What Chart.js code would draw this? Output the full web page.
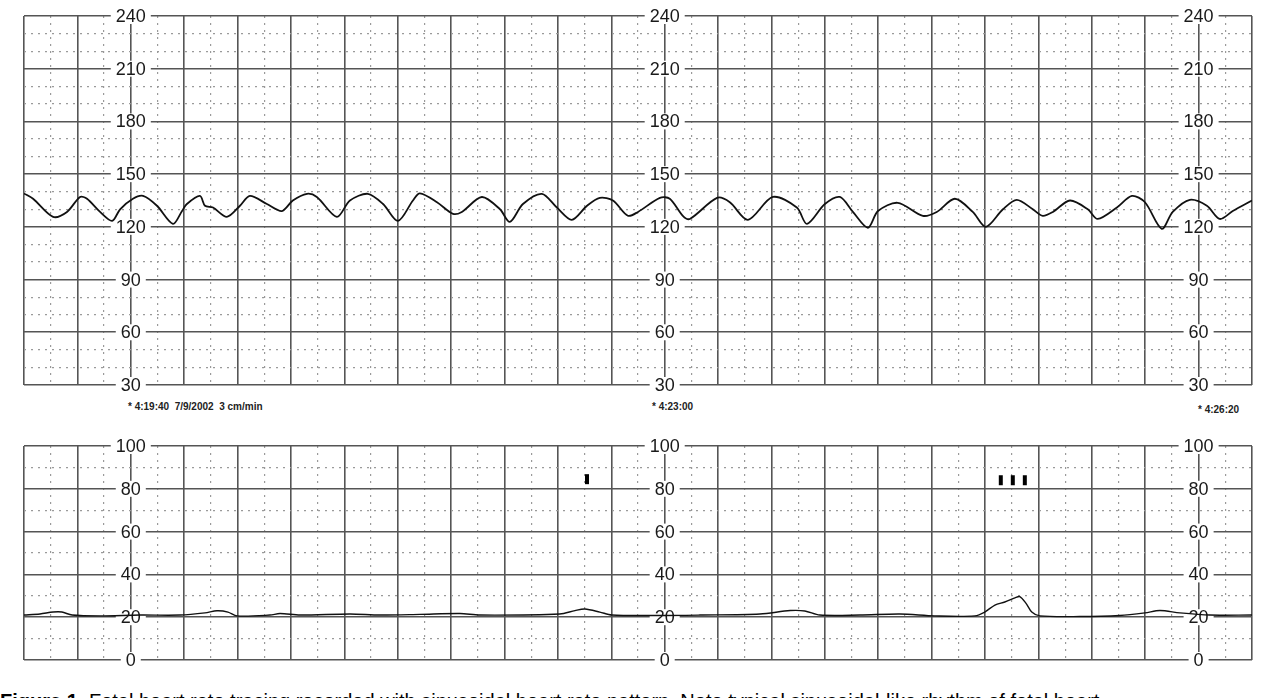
<!DOCTYPE html>
<html>
<head>
<meta charset="utf-8">
<script src="https://cdn.jsdelivr.net/npm/chart.js@4"></script>
<style>
  html, body { margin: 0; padding: 0; background: #fff; overflow: hidden; }
  body { width: 1266px; height: 698px; position: relative; font-family: "Liberation Sans", Arial, sans-serif; }
  canvas { position: absolute; left: 0; }
  #fcf { top: 0; }
  #ua { top: 430px; }
  .hora { position: absolute; font-size: 10px; font-weight: bold; color: #222; white-space: pre; }
  .pie { position: absolute; left: 0; top: 690px; font-size: 20px; color: #000; white-space: nowrap; }
</style>
</head>
<body>
<canvas id="fcf" width="1266" height="400"></canvas>
<canvas id="ua" width="1266" height="240"></canvas>
<div class="hora" style="left:128px; top:401px;">* 4:19:40  7/9/2002  3 cm/min</div>
<div class="hora" style="left:652px; top:401px;">* 4:23:00</div>
<div class="hora" style="left:1198px; top:404px;">* 4:26:20</div>
<div class="pie"><b>Figure 1.</b> Fetal heart rate tracing recorded with sinusoidal heart rate pattern. Note typical sinusoidal-like rhythm of fetal heart</div>
<script>
const ctxFcf = document.getElementById('fcf');
const ctxUa = document.getElementById('ua');

// segundos desde 4:19:00 (3 cm/min)
const tiempoMax = 460;
const columnasEtiquetas = [40, 240, 440];

// frecuencia cardiaca fetal (lpm)
const tiempoFcf = [0, 3.4, 10.9, 16.1, 21, 23.6, 28.5, 33, 36, 40.8, 44.6, 49.8, 55.8, 59.2, 61, 65.9, 67.8, 70.8, 76, 80.9,
    84.6, 91, 96.6, 100.7, 106, 109.7, 117.2, 122.1, 128.8, 134.5, 140.1, 145.7, 148.3, 154.7, 160.7, 164, 171.5, 178.3, 182, 186.9,
    194, 199.6, 205.2, 210.9, 215.7, 220.6, 226.2, 230, 238.2, 241.9, 246.8, 249.4, 259.6, 264.4, 271.2, 280.5, 289.5, 293.3, 300, 305.6,
    310.5, 316.1, 319.9, 327.3, 336.7, 341.9, 348.7, 355.4, 360.3, 366.7, 371.9, 377.9, 381.6, 385.4, 391.8, 398.5, 402.2, 409.4, 415, 419.9,
    426.2, 430.3, 436.7, 443.1, 447.9, 452.8, 460];
const fcf = [139, 136, 125.7, 128.5, 137, 136, 128.5, 123.4, 130, 136, 137.6, 132, 121.7, 129, 133, 137.6, 132, 131, 125.7, 132,
    137.6, 133, 129, 135, 138.8, 137, 125.7, 135, 138.8, 133, 123.4, 135, 139, 134, 127.4, 128.5, 137, 130, 122.8, 133,
    138.8, 131, 124, 132, 136.5, 135, 126.3, 128.5, 136.5, 136, 126.3, 124.5, 136.5, 134, 124, 137, 131, 121.7, 133, 137,
    128.5, 119.5, 129, 133.7, 126.3, 128.5, 136, 128.5, 120, 130, 135.4, 130, 126.3, 128.5, 135, 130, 124.5, 131, 137.6, 134,
    118.9, 128.5, 135.4, 132, 124.5, 129, 135];
const etiquetasFcf = [240, 210, 180, 150, 120, 90, 60, 30];

// actividad uterina
const tiempoUa = [0, 6, 10.9, 14.2, 18, 28.5, 43.4, 58.4, 67.8, 72.3, 76.4, 79.8, 92.1, 95.9, 103.4, 122.1, 133.3, 148.3, 163.3, 170.8,
    200.7, 206.4, 210.1, 215.7, 220.2, 238.2, 253.2, 275.7, 287, 292.5, 298.1, 313.1, 328.1, 341.2, 356.2, 359.9, 363.7, 367.4, 371.2, 373,
    375.3, 377.5, 380.5, 395.5, 410.5, 419.9, 425.5, 433, 444.2, 460];
const ua = [21, 21.5, 22.4, 22.4, 21, 20.6, 21, 21, 22, 23, 22.4, 20.6, 21, 21.7, 21, 21.5, 21, 21.3, 21.7, 21,
    21.5, 23.1, 23.8, 22.4, 21, 20.8, 21, 21.5, 23.1, 22.9, 21, 21, 21.5, 20.6, 20.6, 22.4, 25.7, 27.1, 29, 29.6,
    26.6, 22.4, 20.6, 20.3, 20.8, 22, 23.1, 22, 21, 21];
const etiquetasUa = [100, 80, 60, 40, 20, 0];

// marcas de movimiento fetal
const tiempoMarcas = [210.9, 365.9, 370.4, 374.9];
const alturaMarcas = [84.5, 84, 84, 84];

const etiquetas = {
    id: 'etiquetas',
    beforeDatasetsDraw(chart, args, opts) {
        const c = chart.ctx;
        const xs = chart.scales.x;
        const ys = chart.scales.y;
        c.save();
        c.font = '18px "Liberation Sans", Arial, sans-serif';
        c.textAlign = 'center';
        c.textBaseline = 'middle';
        columnasEtiquetas.forEach(t => {
            const px = xs.getPixelForValue(t);
            opts.valores.forEach(v => {
                const py = ys.getPixelForValue(v);
                const w = c.measureText(String(v)).width;
                c.fillStyle = '#fff';
                c.fillRect(px - w / 2 - 5, py - 8, w + 10, 16);
                c.fillStyle = '#1a1a1a';
                c.fillText(String(v), px, py + 1);
            });
        });
        c.restore();
    }
};

function escalas(yMin, yMax, paso) {
    return {
        xMenor: {
            type: 'linear', axis: 'x', position: 'bottom', min: 0, max: tiempoMax,
            ticks: { display: false, stepSize: 10 },
            grid: { color: c => c.tick.value % 20 === 0 ? 'rgba(0,0,0,0)' : '#9a9a9a', lineWidth: 1.2, drawTicks: false },
            border: { display: false, dash: [2, 5] }
        },
        x: {
            type: 'linear', min: 0, max: tiempoMax,
            ticks: { display: false, stepSize: 20 },
            grid: { color: '#555', lineWidth: 1.6, drawTicks: false },
            border: { display: false }
        },
        yMenor: {
            type: 'linear', axis: 'y', position: 'left', min: yMin, max: yMax,
            ticks: { display: false, stepSize: 10 },
            grid: { color: c => (c.tick.value - yMin) % paso === 0 ? 'rgba(0,0,0,0)' : '#9a9a9a', lineWidth: 1.2, drawTicks: false },
            border: { display: false, dash: [2, 5] }
        },
        y: {
            type: 'linear', min: yMin, max: yMax,
            ticks: { display: false, stepSize: paso },
            grid: { color: '#555', lineWidth: 1.6, drawTicks: false },
            border: { display: false }
        }
    };
}

function fcfChart() {
    new Chart(ctxFcf, {
        type: 'line',
        data: {
            datasets: [{
                data: tiempoFcf.map((t, i) => ({ x: t, y: fcf[i] })),
                borderColor: '#111',
                borderWidth: 1.8,
                pointRadius: 0,
                tension: 0.3
            }]
        },
        options: {
            responsive: false,
            animation: false,
            layout: { padding: { left: 24, right: 14, top: 16, bottom: 15 } },
            plugins: { legend: { display: false }, tooltip: { enabled: false }, etiquetas: { valores: etiquetasFcf } },
            scales: escalas(30, 240, 30)
        },
        plugins: [etiquetas]
    });
}

function uaChart() {
    new Chart(ctxUa, {
        type: 'line',
        data: {
            datasets: [{
                data: tiempoUa.map((t, i) => ({ x: t, y: ua[i] })),
                borderColor: '#111',
                borderWidth: 1.4,
                pointRadius: 0,
                tension: 0.3
            }, {
                data: tiempoMarcas.map((t, i) => ({ x: t, y: alturaMarcas[i] })),
                showLine: false,
                pointStyle: 'line',
                rotation: 90,
                pointRadius: 5,
                borderColor: '#000',
                borderWidth: 4
            }]
        },
        options: {
            responsive: false,
            animation: false,
            layout: { padding: { left: 24, right: 14, top: 16, bottom: 10 } },
            plugins: { legend: { display: false }, tooltip: { enabled: false }, etiquetas: { valores: etiquetasUa } },
            scales: escalas(0, 100, 20)
        },
        plugins: [etiquetas]
    });
}

fcfChart();
uaChart();
</script>
</body>
</html>
